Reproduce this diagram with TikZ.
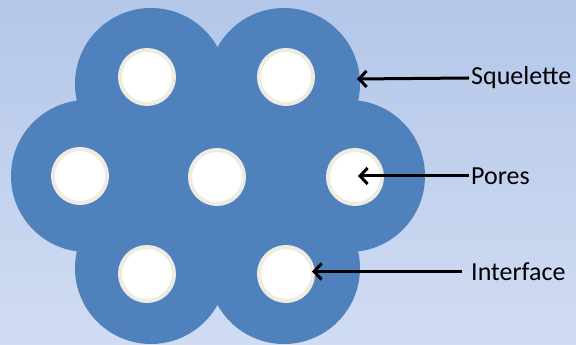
\documentclass[tikz,border=0pt]{standalone}
\usepackage{fontspec}
\setmainfont{Carlito}
\usetikzlibrary{arrows.meta}
\definecolor{bgtop}{RGB}{180,199,233}
\definecolor{bgbot}{RGB}{208,220,242}
\definecolor{skel}{RGB}{79,129,189}
\definecolor{poreedge}{RGB}{238,236,225}
\tikzset{
  pore/.style={circle, minimum size=54pt, inner sep=0pt, fill=white, draw=poreedge, line width=4pt},
  tag/.style={anchor=west, inner sep=2pt, font=\fontsize{26}{31}\selectfont},
  pointer/.style={-{Straight Barb[length=7.5pt,width=16pt]}, line width=3pt}
}
\begin{document}
\begin{tikzpicture}[x=1pt, y=1pt]
	\shade[top color=bgtop, bottom color=bgbot] (0,0) rectangle (576,345);
	\useasboundingbox (0,0) rectangle (576,345);
	% squelette
	\foreach \x/\y in {151/261, 284/261, 87/169, 218/169, 349/169, 151/77, 284/77} {
		\fill[skel] (\x,\y) circle (76);
	}
	% pores
	\foreach \n/\x/\y in {TL/147/268, TR/286/268, ML/80/169, MC/217/168, MR/355/168, BL/147/71, BR/286/71} {
		\node[pore] (p\n) at (\x,\y) {};
	}
	\node[tag] (lSq) at (469,267) {Squelette};
	\node[tag] (lPo) at (469,169) {Pores};
	\node[tag] (lIn) at (469,73.5) {Interface};
	\coordinate (tSq) at (357,266);
	\coordinate (tPo) at (358,169);
	\coordinate (tIn) at (312,73.5);
	\draw[pointer] (lSq.west) -- (tSq);
	\draw[pointer] (lPo.west) -- (tPo);
	\draw[pointer, shorten <=7pt] (lIn.west) -- (tIn);
\end{tikzpicture}
\end{document}
